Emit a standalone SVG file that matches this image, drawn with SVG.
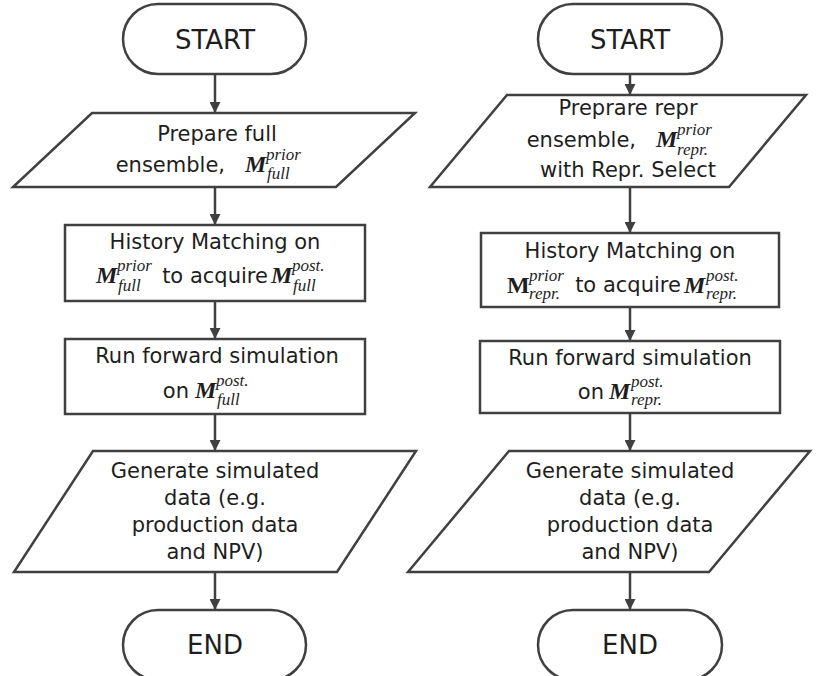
<svg xmlns="http://www.w3.org/2000/svg" width="820" height="676" viewBox="0 0 820 676">
<defs>
<marker id="arr" viewBox="0 0 10 10" refX="10" refY="5" markerWidth="11" markerHeight="11" markerUnits="userSpaceOnUse" orient="auto">
<path d="M0,0 L10,5 L0,10 z" fill="#404040"/>
</marker>
<style>
.sh{fill:#fff;stroke:#404040;stroke-width:2.5}
.ln{stroke:#404040;stroke-width:2.5;fill:none;marker-end:url(#arr)}
.t{font-family:"DejaVu Sans",sans-serif;font-size:21px;fill:#1e1e1e;text-anchor:middle}
.e{text-anchor:end}
.b{font-family:"Liberation Serif",serif;font-size:24px;font-weight:bold;font-style:italic;fill:#1e1e1e}
.bu{font-family:"Liberation Serif",serif;font-size:24px;font-weight:bold;fill:#1e1e1e}
.s{font-family:"Liberation Serif",serif;font-size:17px;font-style:italic;fill:#1e1e1e}
.big{font-size:26px}
</style>
</defs>
<rect width="820" height="676" fill="#fff"/>
<g id="connectors">
<line class="ln" x1="215" y1="74" x2="215" y2="113"/>
<line class="ln" x1="215" y1="187" x2="215" y2="225"/>
<line class="ln" x1="215" y1="301" x2="215" y2="339"/>
<line class="ln" x1="215" y1="414" x2="215" y2="451"/>
<line class="ln" x1="215" y1="572" x2="215" y2="610"/>
<line class="ln" x1="630" y1="74" x2="630" y2="95"/>
<line class="ln" x1="630" y1="187" x2="630" y2="233"/>
<line class="ln" x1="630" y1="307" x2="630" y2="341"/>
<line class="ln" x1="630" y1="413" x2="630" y2="451"/>
<line class="ln" x1="630" y1="572" x2="630" y2="610"/>
</g>
<g id="l_start">
<rect class="sh" x="123" y="4" width="183" height="70" rx="35"/>
<text class="t big" x="215" y="49">START</text>
</g>
<g id="l_prepare">
<polygon class="sh" points="92,113 415,113 336,187 13,187"/>
<text class="t" x="217" y="141">Prepare full</text>
<text class="t e" x="225" y="172">ensemble,</text>
<text class="b" x="245" y="172">M</text>
<text class="s" x="266" y="160">prior</text>
<text class="s" x="267" y="179">full</text>
</g>
<g id="l_hm">
<rect class="sh" x="65" y="225" width="300" height="76"/>
<text class="t" x="215" y="249">History Matching on</text>
<text class="b" x="96" y="283">M</text>
<text class="s" x="117" y="271">prior</text>
<text class="s" x="118" y="291">full</text>
<text class="t" x="215" y="283">to acquire</text>
<text class="b" x="271" y="283">M</text>
<text class="s" x="292" y="271">post.</text>
<text class="s" x="293" y="291">full</text>
</g>
<g id="l_run">
<rect class="sh" x="65" y="339" width="300" height="75"/>
<text class="t" x="217" y="363">Run forward simulation</text>
<text class="t e" x="189" y="398">on</text>
<text class="b" x="195" y="398">M</text>
<text class="s" x="216" y="386">post.</text>
<text class="s" x="217" y="405">full</text>
</g>
<g id="l_gen">
<polygon class="sh" points="93,451 416,451 337,572 14,572"/>
<text class="t" x="215" y="478">Generate simulated</text>
<text class="t" x="215" y="505">data (e.g.</text>
<text class="t" x="215" y="532">production data</text>
<text class="t" x="215" y="559">and NPV)</text>
</g>
<g id="l_end">
<rect class="sh" x="123" y="610" width="183" height="70" rx="35"/>
<text class="t big" x="215" y="654">END</text>
</g>
<g id="r_start">
<rect class="sh" x="538" y="4" width="184" height="70" rx="35"/>
<text class="t big" x="630" y="49">START</text>
</g>
<g id="r_prepare">
<polygon class="sh" points="507,95 806,95 729,187 430,187"/>
<text class="t" x="628" y="115">Preprare repr</text>
<text class="t e" x="636" y="147">ensemble,</text>
<text class="b" x="656" y="147">M</text>
<text class="s" x="677" y="135">prior</text>
<text class="s" x="677" y="155">repr.</text>
<text class="t" x="628" y="177">with Repr. Select</text>
</g>
<g id="r_hm">
<rect class="sh" x="481" y="233" width="298" height="74"/>
<text class="t" x="630" y="258">History Matching on</text>
<text class="bu" x="507" y="293">M</text>
<text class="s" x="529" y="281">prior</text>
<text class="s" x="529" y="299">repr.</text>
<text class="t" x="628" y="292">to acquire</text>
<text class="b" x="684" y="293">M</text>
<text class="s" x="706" y="281">post.</text>
<text class="s" x="706" y="299">repr.</text>
</g>
<g id="r_run">
<rect class="sh" x="480" y="341" width="300" height="72"/>
<text class="t" x="630" y="365">Run forward simulation</text>
<text class="t e" x="604" y="399">on</text>
<text class="b" x="609" y="399">M</text>
<text class="s" x="631" y="387">post.</text>
<text class="s" x="631" y="405">repr.</text>
</g>
<g id="r_gen">
<polygon class="sh" points="509,451 810,451 709,572 408,572"/>
<text class="t" x="630" y="478">Generate simulated</text>
<text class="t" x="630" y="505">data (e.g.</text>
<text class="t" x="630" y="532">production data</text>
<text class="t" x="630" y="559">and NPV)</text>
</g>
<g id="r_end">
<rect class="sh" x="538" y="610" width="184" height="70" rx="35"/>
<text class="t big" x="630" y="654">END</text>
</g>
</svg>
